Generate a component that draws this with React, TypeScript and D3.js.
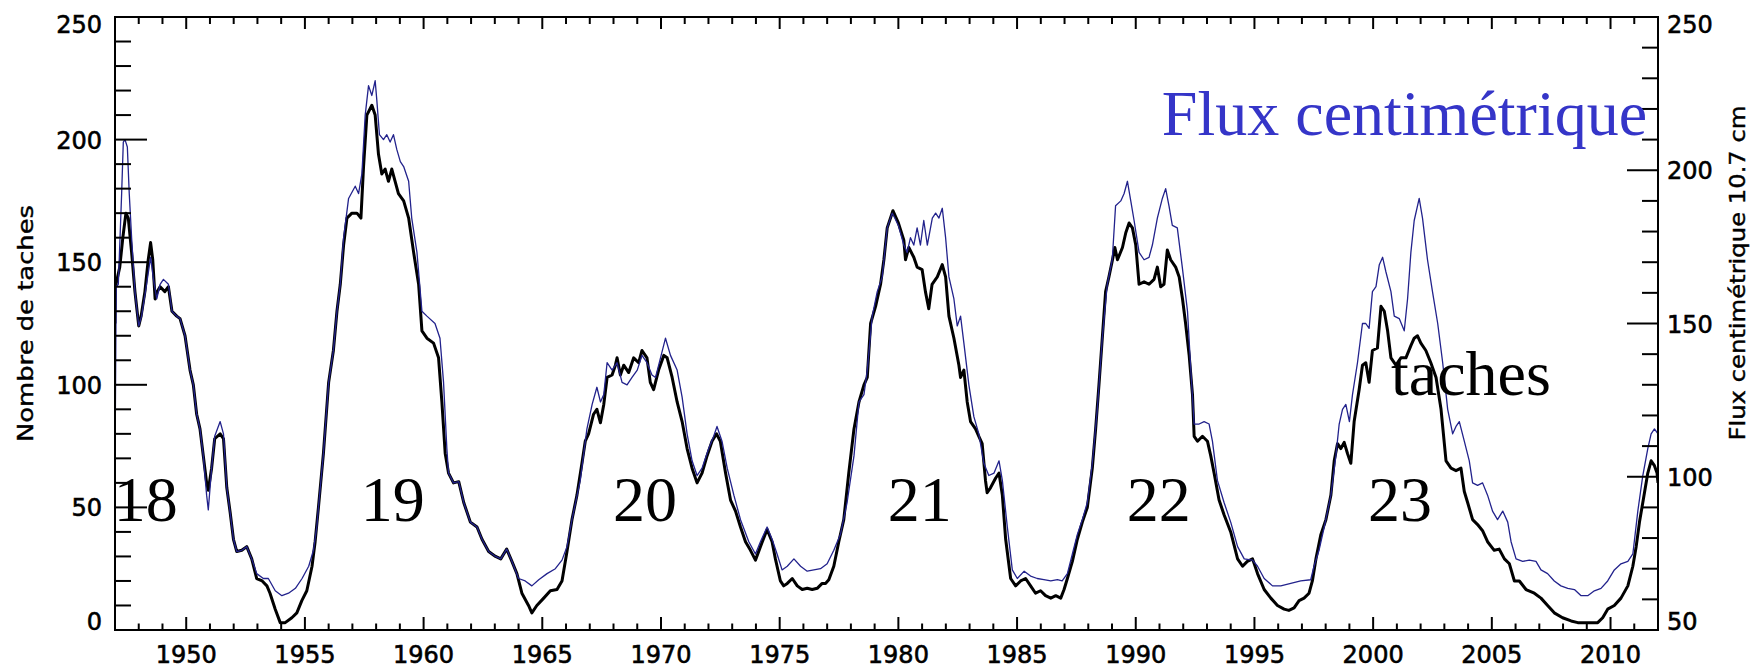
import React from 'react';
import * as d3 from 'd3';

// Sunspot number (black, left axis) : [year, value]
const sunspotSeries: [number, number][] = [
[1947.0,125],[1947.02,140],[1947.2,148],[1947.33,160],[1947.46,170],[1947.56,168],[1947.7,154],[1947.84,138],[1948.0,124],[1948.1,128],[1948.26,138],[1948.4,151],[1948.5,158],[1948.59,151],[1948.69,135],[1948.78,138],[1948.9,140],[1949.1,138],[1949.25,140],[1949.4,130],[1949.6,128],[1949.74,127],[1949.95,120],[1950.16,106],[1950.3,100],[1950.44,88],[1950.58,82],[1950.72,71],[1950.86,60],[1950.93,57],[1951.07,66],[1951.2,78],[1951.43,80],[1951.57,78],[1951.71,58],[1951.85,48],[1951.99,37],[1952.13,32],[1952.34,32.5],[1952.55,34],[1952.76,29],[1952.97,21],[1953.2,20],[1953.4,18],[1953.53,15],[1953.75,8.5],[1953.96,3],[1954.17,3],[1954.45,5],[1954.66,7],[1954.87,12],[1955.08,16],[1955.3,26],[1955.43,36],[1955.57,50],[1955.78,72],[1956.0,101],[1956.2,114],[1956.35,130],[1956.49,141],[1956.63,157],[1956.77,168],[1956.98,170],[1957.19,170],[1957.36,168],[1957.47,189],[1957.61,210],[1957.82,214],[1957.96,210],[1958.1,194],[1958.24,186],[1958.38,188],[1958.52,183],[1958.66,188],[1958.8,183],[1958.94,178],[1959.16,175],[1959.37,168],[1959.58,154],[1959.79,141],[1959.93,122],[1960.14,119],[1960.42,117],[1960.63,111],[1960.77,93],[1960.91,72],[1961.05,64],[1961.26,60],[1961.48,60.5],[1961.69,52],[1961.97,44],[1962.25,42],[1962.46,37],[1962.74,32],[1963.03,30],[1963.25,29],[1963.5,33],[1963.72,28],[1963.93,23],[1964.14,15],[1964.42,10],[1964.56,7],[1964.77,10],[1965.06,13],[1965.34,16],[1965.62,16.5],[1965.83,20],[1966.04,32],[1966.25,45],[1966.46,55],[1966.67,68],[1966.81,77],[1966.95,80],[1967.16,88],[1967.3,90],[1967.45,84.5],[1967.59,92],[1967.73,103],[1967.94,104],[1968.08,108],[1968.15,111],[1968.29,104],[1968.43,108],[1968.64,105],[1968.85,111],[1969.06,109],[1969.2,114],[1969.41,111],[1969.55,101],[1969.69,98],[1969.9,106],[1970.12,112],[1970.26,111],[1970.47,103],[1970.68,93],[1970.89,85],[1971.1,74],[1971.31,66],[1971.52,60],[1971.73,64],[1971.94,71],[1972.15,77],[1972.34,80],[1972.5,77],[1972.72,64],[1972.93,53],[1973.14,48.5],[1973.35,42],[1973.56,36],[1973.77,32.5],[1973.98,28.5],[1974.19,34],[1974.47,41],[1974.68,36],[1974.82,29],[1975.03,20],[1975.17,18],[1975.32,19],[1975.53,21],[1975.74,18],[1975.95,16.5],[1976.16,17],[1976.37,16.5],[1976.58,17],[1976.79,19],[1976.93,19],[1977.07,20.5],[1977.28,26],[1977.49,36],[1977.7,45],[1977.91,64],[1978.13,82],[1978.34,93],[1978.55,100],[1978.69,103],[1978.83,125],[1979.04,132],[1979.25,141],[1979.39,151],[1979.53,164],[1979.77,171],[1980.0,166],[1980.23,159],[1980.3,151],[1980.44,156],[1980.65,152],[1980.79,148],[1981.0,147],[1981.14,138],[1981.28,131],[1981.42,141],[1981.64,144],[1981.85,149],[1981.99,144],[1982.13,128],[1982.34,119],[1982.55,108],[1982.62,103],[1982.76,106],[1982.9,93],[1983.04,85],[1983.25,82],[1983.39,79],[1983.53,76],[1983.67,61],[1983.74,56],[1983.88,58],[1984.1,62],[1984.24,64],[1984.38,55],[1984.52,37],[1984.73,21],[1984.94,18],[1985.15,20],[1985.36,21],[1985.57,18],[1985.78,15],[1985.99,16],[1986.2,14],[1986.42,13],[1986.63,14],[1986.84,13],[1986.98,16.5],[1987.12,21],[1987.33,28],[1987.54,37],[1987.75,44],[1987.96,50],[1988.17,66],[1988.31,82],[1988.45,100],[1988.59,119],[1988.73,138],[1988.87,144],[1989.02,151],[1989.12,156],[1989.23,151],[1989.44,156],[1989.58,162],[1989.72,166],[1989.86,164],[1990.0,157],[1990.14,141],[1990.35,142],[1990.56,141],[1990.77,143],[1990.91,148],[1991.05,140],[1991.19,141],[1991.33,155],[1991.47,151],[1991.68,148],[1991.83,144],[1991.97,135],[1992.1,125],[1992.25,112],[1992.39,96],[1992.46,79],[1992.6,77],[1992.81,79],[1993.02,77],[1993.16,71],[1993.3,64],[1993.51,53],[1993.72,47],[1994.0,40],[1994.29,29],[1994.5,26],[1994.7,28],[1994.92,29],[1995.13,23],[1995.41,16.5],[1995.69,13],[1995.97,10],[1996.25,8.5],[1996.45,8],[1996.67,9],[1996.88,12],[1997.09,13],[1997.3,15],[1997.44,20],[1997.59,29],[1997.8,39],[1998.01,45],[1998.22,55],[1998.36,69],[1998.5,76],[1998.64,74],[1998.78,76.5],[1998.92,72],[1999.06,68],[1999.2,85],[1999.41,98],[1999.55,108],[1999.69,109],[1999.83,101],[1999.97,114],[2000.18,115],[2000.33,132],[2000.47,130],[2000.61,122],[2000.75,111],[2000.96,108],[2001.17,111],[2001.38,111],[2001.59,116],[2001.73,119],[2001.87,120],[2002.01,117],[2002.22,114],[2002.43,109],[2002.65,103],[2002.86,90],[2003.07,69],[2003.28,66],[2003.49,65],[2003.7,66],[2003.84,56.5],[2003.98,52],[2004.19,45],[2004.4,43],[2004.61,40.5],[2004.82,36],[2005.1,32.5],[2005.31,33],[2005.53,29],[2005.74,27],[2005.95,20],[2006.16,20],[2006.44,16.5],[2006.79,15],[2007.07,13],[2007.35,10],[2007.63,7],[2007.98,5],[2008.34,3.7],[2008.62,3],[2008.9,3],[2009.18,3],[2009.46,3],[2009.67,5],[2009.88,8.5],[2010.16,10],[2010.44,13],[2010.73,18],[2010.94,26],[2011.08,34],[2011.22,44],[2011.36,52],[2011.57,64],[2011.71,69],[2011.85,67],[2011.96,64],[2012.0,60]
];

// 10.7 cm radio flux (blue, right axis) : [year, sfu]
const fluxSeries: [number, number][] = [
[1947.0,102.8],[1947.05,162],[1947.14,162.8],[1947.28,192.4],[1947.35,209.2],[1947.42,210],[1947.52,207.6],[1947.6,192.4],[1947.7,178],[1947.84,160.4],[1948.0,149.2],[1948.12,152.4],[1948.33,162.8],[1948.5,171.6],[1948.62,164.4],[1948.76,158],[1948.9,162.8],[1949.04,164.4],[1949.25,162.8],[1949.4,154],[1949.6,152.4],[1949.74,151.6],[1949.95,146],[1950.16,134.8],[1950.3,130],[1950.44,120.4],[1950.58,115.6],[1950.72,106.8],[1950.86,94],[1950.93,89.2],[1951.07,102.8],[1951.2,113.2],[1951.43,118],[1951.57,114],[1951.71,96.4],[1951.85,88.4],[1951.99,79.6],[1952.13,75.6],[1952.34,76],[1952.55,77.2],[1952.76,73.2],[1952.97,68.4],[1953.25,66.8],[1953.46,66.8],[1953.75,62.8],[1954.03,61.2],[1954.31,62],[1954.6,63.6],[1954.88,66.8],[1955.16,70.8],[1955.36,76],[1955.5,83.6],[1955.57,90],[1955.78,107.6],[1956.0,130.8],[1956.2,141.2],[1956.35,154],[1956.49,162.8],[1956.63,178],[1956.84,190.8],[1957.12,194.8],[1957.26,192.4],[1957.4,198.8],[1957.54,218],[1957.68,227.6],[1957.82,224.4],[1957.96,229.2],[1958.03,222.8],[1958.14,211.6],[1958.31,210],[1958.45,211.6],[1958.59,209.2],[1958.73,211.6],[1958.87,206.8],[1959.02,202.8],[1959.16,201.2],[1959.37,196.4],[1959.5,184.4],[1959.72,173.2],[1959.93,154],[1960.14,152.4],[1960.48,150],[1960.69,145.2],[1960.84,130.8],[1960.98,109.2],[1961.05,101.2],[1961.26,98],[1961.48,98.4],[1961.69,91.6],[1961.97,85.2],[1962.25,83.6],[1962.46,79.6],[1962.74,75.6],[1963.03,74],[1963.25,73.2],[1963.5,76.4],[1963.72,72.4],[1964.0,66.8],[1964.28,66],[1964.56,64.4],[1964.85,66.4],[1965.2,68.4],[1965.55,70],[1965.83,72.8],[1966.04,77.2],[1966.25,86],[1966.6,98.8],[1966.88,115.6],[1967.1,123.6],[1967.3,129.2],[1967.45,124.4],[1967.59,126.8],[1967.73,137.2],[1967.94,134.8],[1968.15,137.2],[1968.36,130.8],[1968.57,130],[1968.78,132.4],[1969.0,134.8],[1969.2,139.6],[1969.41,137.2],[1969.62,133.2],[1969.77,132.4],[1969.98,138.8],[1970.19,145.2],[1970.4,139.6],[1970.68,134.8],[1970.89,126],[1971.1,114],[1971.31,105.2],[1971.52,100.4],[1971.73,102.8],[1972.01,109.2],[1972.22,113.2],[1972.36,116.4],[1972.57,111.6],[1972.79,102.8],[1973.07,94],[1973.35,86],[1973.7,78.8],[1973.98,74.8],[1974.19,78.8],[1974.47,83.6],[1974.68,79.6],[1974.89,74.8],[1975.1,69.6],[1975.32,70.8],[1975.6,73.2],[1975.88,70.8],[1976.16,69.2],[1976.44,69.6],[1976.72,70],[1977.0,71.6],[1977.28,76],[1977.56,81.2],[1977.84,91.6],[1978.13,106.8],[1978.34,124.4],[1978.55,126.8],[1978.69,134.8],[1978.9,152.4],[1979.11,160.4],[1979.32,165.2],[1979.53,181.2],[1979.74,186],[1979.85,184.4],[1980.0,182],[1980.23,175.6],[1980.37,173.2],[1980.51,178],[1980.65,175.6],[1980.79,181.2],[1980.93,175.6],[1981.07,183.6],[1981.22,175.6],[1981.43,184.4],[1981.57,186],[1981.71,184.4],[1981.85,187.6],[1981.99,178],[1982.13,165.2],[1982.34,158],[1982.48,149.2],[1982.62,152.4],[1982.76,143.6],[1982.97,130],[1983.18,119.6],[1983.39,114],[1983.6,104.4],[1983.81,100.4],[1984.03,101.2],[1984.24,105.2],[1984.38,98.8],[1984.59,83.6],[1984.8,69.6],[1985.01,66.8],[1985.3,69.2],[1985.57,67.6],[1985.85,66.8],[1986.13,66.4],[1986.42,66],[1986.7,66.4],[1986.9,66],[1987.12,68.4],[1987.33,74.8],[1987.54,81.2],[1987.75,86],[1987.96,91.6],[1988.17,104.4],[1988.38,122],[1988.59,145.2],[1988.8,162.8],[1989.01,170.8],[1989.15,188.4],[1989.37,190],[1989.51,192.4],[1989.65,196.4],[1989.79,190],[1989.93,183.6],[1990.14,173.2],[1990.35,170.8],[1990.56,171.6],[1990.7,175.6],[1990.91,184.4],[1991.12,190.8],[1991.26,194],[1991.4,188.4],[1991.54,182],[1991.75,181.2],[1991.96,168.4],[1992.18,154],[1992.32,134.8],[1992.46,117.2],[1992.67,117.2],[1992.88,118],[1993.09,117.2],[1993.23,111.6],[1993.44,98.8],[1993.72,91.6],[1994.0,85.2],[1994.29,77.2],[1994.57,73.2],[1994.92,72.8],[1995.13,70.8],[1995.41,66.8],[1995.76,64.4],[1996.11,64.4],[1996.53,65.2],[1996.95,66],[1997.37,66.4],[1997.51,70.8],[1997.72,76],[1997.94,83.6],[1998.22,94],[1998.43,106.8],[1998.57,117.2],[1998.71,122],[1998.85,123.6],[1999.0,118],[1999.13,126.8],[1999.34,137.2],[1999.55,150],[1999.69,150],[1999.83,148.4],[1999.97,160.4],[2000.12,162],[2000.26,169.2],[2000.4,171.6],[2000.54,166.8],[2000.75,160.4],[2000.89,152.4],[2001.1,151.6],[2001.31,147.6],[2001.45,158],[2001.59,173.2],[2001.73,183.6],[2001.94,190.8],[2002.08,184.4],[2002.29,170.8],[2002.5,160.4],[2002.72,150],[2002.93,137.2],[2003.14,122],[2003.35,114],[2003.49,116.4],[2003.63,118],[2003.84,111.6],[2004.05,105.2],[2004.19,98],[2004.4,97.2],[2004.61,98],[2004.82,94],[2005.03,88.8],[2005.24,86],[2005.46,88.8],[2005.67,85.2],[2005.81,78.8],[2006.02,73.2],[2006.3,72.4],[2006.58,72.8],[2006.86,72.4],[2007.07,69.6],[2007.35,68.4],[2007.63,66],[2007.91,64.4],[2008.2,63.6],[2008.48,63.2],[2008.76,61.2],[2009.04,61.2],[2009.32,62.8],[2009.6,63.6],[2009.88,66],[2010.16,69.6],[2010.44,71.6],[2010.73,72.4],[2010.94,74.8],[2011.15,88.8],[2011.36,100.4],[2011.57,109.2],[2011.71,114],[2011.85,115.6],[2012.0,114]
];

const leftTickLabels = [0, 50, 100, 150, 200, 250];
const rightTickLabels = [50, 100, 150, 200, 250];
const yearTickLabels = [1950, 1955, 1960, 1965, 1970, 1975, 1980, 1985, 1990, 1995, 2000, 2005, 2010];

const cycleNames = ['18', '19', '20', '21', '22', '23'];
const cycleYears = [1946.95, 1957.35, 1967.98, 1979.55, 1989.62, 1999.78];
const cycleLevel = 44.5;

const annotationTexts = ['Flux centimétrique', 'taches'];
const annotationYears = [1991.1, 2000.75];
const annotationLevels = [202, 96];
const annotationColors = ['#3535c8', '#000000'];

const leftTitle = 'Nombre de taches';
const rightTitle = 'Flux centimétrique 10.7 cm';

export default function App() {
  const W = 1760;
  const H = 670;
  const L = 115, R = 1658, T = 17, B = 630;

  const x = d3.scaleLinear().domain([1947, 2012]).range([L, R]);
  const yL = d3.scaleLinear().domain([0, 250]).range([B, T]);
  const yR = d3.scaleLinear().domain([50, 250]).range([B, T]);

  const lineS = d3.line<[number, number]>().x(d => x(d[0])).y(d => yL(d[1]));
  const lineF = d3.line<[number, number]>().x(d => x(d[0])).y(d => yR(d[1]));

  const years = d3.range(1947, 2013);
  const leftTicks = d3.range(0, 251, 10);
  const rightTicks = d3.range(50, 251, 10);

  const tickFont = "'DejaVu Sans', sans-serif";
  const serif = "'Liberation Serif', 'Times New Roman', serif";

  const labelBaseline = (yy: number) => Math.min(B, Math.max(T + 16, yy + 9));

  return (
    <svg width={W} height={H} style={{ position: 'absolute', left: 0, top: 0, background: '#fff' }}>
      <defs>
        <clipPath id="plotclip">
          <rect x={L} y={T - 2} width={R - L} height={B - T + 4} />
        </clipPath>
      </defs>
      <rect x={0} y={0} width={W} height={H} fill="#fff" />

      {/* data */}
      <g clipPath="url(#plotclip)" fill="none" strokeLinejoin="round">
        <path d={lineS(sunspotSeries) || ''} stroke="#000" strokeWidth={3} />
        <path d={lineF(fluxSeries) || ''} stroke="#22228c" strokeWidth={1.3} />
      </g>

      {/* frame */}
      <rect x={L} y={T} width={R - L} height={B - T} fill="none" stroke="#000" strokeWidth={2} />

      {/* ticks */}
      <g stroke="#000" strokeWidth={2}>
        {years.map(yr => {
          const major = yr % 5 === 0;
          const xx = x(yr);
          return (
            <g key={'xt' + yr}>
              <line x1={xx} x2={xx} y1={B} y2={B - (major ? 13 : 6.5)} />
              <line x1={xx} x2={xx} y1={T} y2={T + (major ? 12 : 7)} />
            </g>
          );
        })}
        {leftTicks.map(v => {
          const major = v % 50 === 0;
          const yy = yL(v);
          return <line key={'lt' + v} x1={L} x2={L + (major ? 32 : 16)} y1={yy} y2={yy} />;
        })}
        {rightTicks.map(v => {
          const major = v % 50 === 0;
          const yy = yR(v);
          return <line key={'rt' + v} x1={R} x2={R - (major ? 31 : 16)} y1={yy} y2={yy} />;
        })}
      </g>

      {/* tick labels */}
      <g fontFamily={tickFont} fontSize={24} fill="#000" stroke="#000" strokeWidth={0.6}>
        {yearTickLabels.map(yr => (
          <text key={'xl' + yr} x={x(yr)} y={663} textAnchor="middle">{yr}</text>
        ))}
        {leftTickLabels.map(v => (
          <text key={'ll' + v} x={102} y={labelBaseline(yL(v))} textAnchor="end">{v}</text>
        ))}
        {rightTickLabels.map(v => (
          <text key={'rl' + v} x={1667} y={labelBaseline(yR(v))} textAnchor="start">{v}</text>
        ))}
      </g>

      {/* axis titles */}
      <text
        transform={`translate(33, ${(T + B) / 2}) rotate(-90)`}
        fontFamily={tickFont}
        fontSize={21}
        textAnchor="middle"
        textLength={237}
        lengthAdjust="spacingAndGlyphs"
        fill="#000"
        stroke="#000"
        strokeWidth={0.4}
      >
        {leftTitle}
      </text>
      <text
        transform={`translate(1745, 273) rotate(-90)`}
        fontFamily={tickFont}
        fontSize={21}
        textAnchor="middle"
        textLength={335}
        lengthAdjust="spacingAndGlyphs"
        fill="#000"
        stroke="#000"
        strokeWidth={0.4}
      >
        {rightTitle}
      </text>

      {/* cycle numbers */}
      <g fontFamily={serif} fontSize={64} fill="#000">
        {cycleNames.map((c, i) => (
          <text key={'c' + c} x={x(cycleYears[i])} y={yL(cycleLevel)}>{c}</text>
        ))}
      </g>

      {/* annotations */}
      {annotationTexts.map((t, i) => (
        <text
          key={'a' + i}
          x={x(annotationYears[i])}
          y={yL(annotationLevels[i])}
          fontFamily={serif}
          fontSize={64}
          fill={annotationColors[i]}
        >
          {t}
        </text>
      ))}
    </svg>
  );
}
